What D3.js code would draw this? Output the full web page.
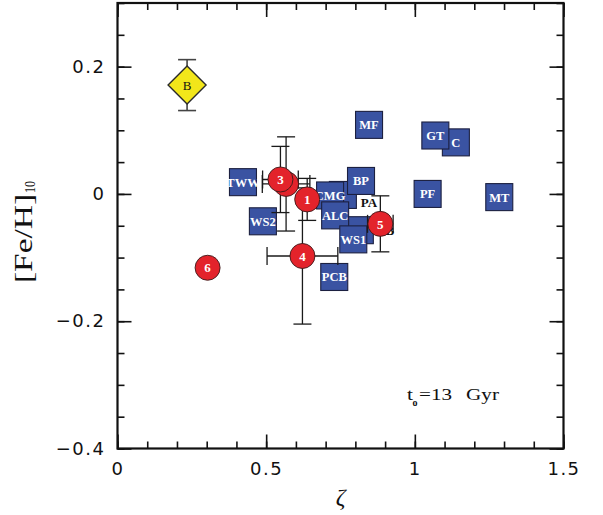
<!DOCTYPE html>
<html>
<head>
<meta charset="utf-8">
<script src="https://cdn.jsdelivr.net/npm/d3@7"></script>
<style>
  body { margin: 0; background: #fff; }
  svg { display: block; }
</style>
</head>
<body>
<svg id="chart" width="603" height="515"></svg>
<script>
// ---------- data ----------
// blue squares (drawn in this order; later ones on top)
const sqLabels = ["", "", "TWW", "WS2", "CMG", "ALC", "BP", "WS1", "PCB", "MF", "C", "GT", "PF", "MT"];
const sqZeta   = [0.758, 0.815, 0.422, 0.489, 0.715, 0.732, 0.819, 0.793, 0.729, 0.846, 1.138, 1.069, 1.043, 1.284];
const sqFeH    = [-0.0016, -0.057, 0.0185, -0.043, -0.0024, -0.0337, 0.0204, -0.0714, -0.1305, 0.1085, 0.081, 0.0918, 0.0, -0.005];

// white labelled squares
const wLabels = ["PA", "B"];
const wZeta   = [0.846, 0.916];
const wFeH    = [-0.013, -0.057];

// red circles
const cLabels = ["2", "3", "1", "4", "5", "6"];
const cZeta   = [0.567, 0.548, 0.638, 0.622, 0.884, 0.303];
const cFeH    = [0.0157, 0.0227, -0.0086, -0.0975, -0.047, -0.116];
const cZetaErr = [0.08, 0.06, 0, 0.119, 0.043, 0];
const cFeHErr  = [0.074, 0.052, 0.033, 0.107, 0.044, 0];

// yellow diamond
const dLabel = "B";
const dZeta = 0.234;
const dFeH = 0.171;
const dFeHErr = 0.04;

const xMajor = [0, 0.5, 1, 1.5];
const xMinor = d3.range(0, 1.501, 0.1).map(v => +v.toFixed(2));
const yMajor = [-0.4, -0.2, 0, 0.2];
const yMinor = d3.range(-0.4, 0.301, 0.05).map(v => +v.toFixed(2));

// ---------- layout ----------
const L = 117.5, R = 563.5, T = 3, B = 448.5;
const x = d3.scaleLinear().domain([0, 1.5]).range([L, R]);
const y = d3.scaleLinear().domain([-0.4, 0.3]).range([B, T]);

const svg = d3.select("#chart");
const ink = "#111";

// ---------- axes (inward ticks on all sides) ----------
const fmtY = d => d === 0 ? "0" : d3.format(".1f")(d);
const fmtX = d => d3.format("~g")(d);

function styleAxis(g) {
  g.select(".domain").remove();
  g.selectAll(".tick line").attr("stroke", ink).attr("stroke-width", 1.6);
  g.selectAll(".tick text")
    .attr("fill", ink)
    .style("font-family", "'DejaVu Sans', sans-serif")
    .style("font-size", "18px")
    .style("letter-spacing", "1.5px");
}

// minor
svg.append("g").attr("transform", `translate(0,${B})`)
  .call(d3.axisBottom(x).tickValues(xMinor).tickSize(-7).tickFormat("")).call(styleAxis);
svg.append("g").attr("transform", `translate(0,${T})`)
  .call(d3.axisTop(x).tickValues(xMinor).tickSize(-7).tickFormat("")).call(styleAxis);
svg.append("g").attr("transform", `translate(${L},0)`)
  .call(d3.axisLeft(y).tickValues(yMinor).tickSize(-7).tickFormat("")).call(styleAxis);
svg.append("g").attr("transform", `translate(${R},0)`)
  .call(d3.axisRight(y).tickValues(yMinor).tickSize(-7).tickFormat("")).call(styleAxis);
// major
svg.append("g").attr("transform", `translate(0,${B})`)
  .call(d3.axisBottom(x).tickValues(xMajor).tickSize(-14).tickPadding(14).tickFormat(fmtX)).call(styleAxis);
svg.append("g").attr("transform", `translate(0,${T})`)
  .call(d3.axisTop(x).tickValues(xMajor).tickSize(-14).tickFormat("")).call(styleAxis);
svg.append("g").attr("transform", `translate(${L},0)`)
  .call(d3.axisLeft(y).tickValues(yMajor).tickSize(-14).tickPadding(12).tickFormat(fmtY)).call(styleAxis);
svg.append("g").attr("transform", `translate(${R},0)`)
  .call(d3.axisRight(y).tickValues(yMajor).tickSize(-14).tickFormat("")).call(styleAxis);

// frame
svg.append("rect").attr("x", L).attr("y", T).attr("width", R - L).attr("height", B - T)
  .attr("fill", "none").attr("stroke", ink).attr("stroke-width", 2.2);

// ---------- axis titles ----------
svg.append("text")
  .attr("x", x(0.75)).attr("y", 505)
  .attr("text-anchor", "middle")
  .style("font-family", "'Liberation Serif', serif")
  .style("font-style", "italic")
  .style("font-size", "24px")
  .attr("fill", ink)
  .text("ζ");

const yl = svg.append("g").attr("transform", "translate(32,0) rotate(-90)");
yl.append("text")
  .attr("x", -283).attr("y", 0)
  .attr("textLength", 89).attr("lengthAdjust", "spacingAndGlyphs")
  .style("font-family", "'Liberation Serif', serif")
  .style("font-size", "25px")
  .attr("fill", ink)
  .text("[Fe/H]");
yl.append("text")
  .attr("x", -193).attr("y", 3)
  .attr("textLength", 12).attr("lengthAdjust", "spacingAndGlyphs")
  .style("font-family", "'Liberation Serif', serif")
  .style("font-size", "14px")
  .attr("fill", ink)
  .text("10");

// ---------- annotation ----------
const annFont = "'Liberation Serif', serif";
svg.append("text").attr("x", 407).attr("y", 400)
  .attr("textLength", 6).attr("lengthAdjust", "spacingAndGlyphs")
  .style("font-family", annFont).style("font-size", "17px").attr("fill", ink).text("t");
svg.append("text").attr("x", 412.5).attr("y", 405.5)
  .style("font-family", annFont).style("font-size", "10px").style("font-weight", "bold").attr("fill", ink).text("o");
svg.append("text").attr("x", 419).attr("y", 400)
  .attr("textLength", 33).attr("lengthAdjust", "spacingAndGlyphs")
  .style("font-family", annFont).style("font-size", "17px").attr("fill", ink).text("=13");
svg.append("text").attr("x", 466).attr("y", 400)
  .attr("textLength", 33).attr("lengthAdjust", "spacingAndGlyphs")
  .style("font-family", annFont).style("font-size", "17px").attr("fill", ink).text("Gyr");

// ---------- marks ----------
const S = 27; // square size
const plot = svg.append("g");

// white labelled squares (below blue)
const wData = wLabels.map((l, i) => ({ l, x: wZeta[i], y: wFeH[i] }));
const wg = plot.selectAll("g.w").data(wData).join("g").attr("class", "w")
  .attr("transform", d => `translate(${x(d.x)},${y(d.y)})`);
wg.append("rect").attr("x", -S / 2).attr("y", -S / 2).attr("width", S).attr("height", S).attr("fill", "#fff");
wg.append("text").attr("text-anchor", "middle").attr("dy", "0.36em")
  .style("font-family", "'Liberation Serif', serif").style("font-size", "13px").style("font-weight", "bold")
  .attr("fill", ink).text(d => d.l);

// blue squares
const sqData = sqLabels.map((l, i) => ({ l, x: sqZeta[i], y: sqFeH[i] }));
const sg = plot.selectAll("g.sq").data(sqData).join("g").attr("class", "sq")
  .attr("transform", d => `translate(${x(d.x)},${y(d.y)})`);
sg.append("rect").attr("x", -S / 2).attr("y", -S / 2).attr("width", S).attr("height", S)
  .attr("fill", "#3a53a2").attr("stroke", "#1c2040").attr("stroke-width", 1.1);
sg.append("text").attr("text-anchor", "middle").attr("dy", "0.36em")
  .style("font-family", "'Liberation Serif', serif").style("font-size", "12.5px").style("font-weight", "bold")
  .attr("fill", "#fff").text(d => d.l);

// error bars for circles + diamond
const cap = 9;
const cData = cLabels.map((l, i) => ({ l, x: cZeta[i], y: cFeH[i], ex: cZetaErr[i], ey: cFeHErr[i] }));
const eb = plot.append("g").attr("stroke", "#1a1a1a").attr("stroke-width", 1.3).attr("fill", "none");
cData.forEach(d => {
  const cx = x(d.x), cy = y(d.y);
  if (d.ey > 0) {
    const y1 = y(d.y + d.ey), y2 = y(d.y - d.ey);
    eb.append("line").attr("x1", cx).attr("x2", cx).attr("y1", y1).attr("y2", y2);
    eb.append("line").attr("x1", cx - cap).attr("x2", cx + cap).attr("y1", y1).attr("y2", y1);
    eb.append("line").attr("x1", cx - cap).attr("x2", cx + cap).attr("y1", y2).attr("y2", y2);
  }
  if (d.ex > 0) {
    const x1 = x(d.x - d.ex), x2 = x(d.x + d.ex);
    eb.append("line").attr("x1", x1).attr("x2", x2).attr("y1", cy).attr("y2", cy);
    eb.append("line").attr("x1", x1).attr("x2", x1).attr("y1", cy - cap).attr("y2", cy + cap);
    eb.append("line").attr("x1", x2).attr("x2", x2).attr("y1", cy - cap).attr("y2", cy + cap);
  }
});
{
  const cx = x(dZeta), y1 = y(dFeH + dFeHErr), y2 = y(dFeH - dFeHErr);
  const dg = plot.append("g").attr("stroke", "#444").attr("stroke-width", 1.6);
  dg.append("line").attr("x1", cx).attr("x2", cx).attr("y1", y1).attr("y2", y2);
  dg.append("line").attr("x1", cx - cap).attr("x2", cx + cap).attr("y1", y1).attr("y2", y1);
  dg.append("line").attr("x1", cx - cap).attr("x2", cx + cap).attr("y1", y2).attr("y2", y2);
}

// red circles
const cg = plot.selectAll("g.c").data(cData).join("g").attr("class", "c")
  .attr("transform", d => `translate(${x(d.x)},${y(d.y)})`);
cg.append("circle").attr("r", 12.5).attr("fill", "#e3232b").attr("stroke", "#3a1a1a").attr("stroke-width", 0.9);
cg.append("text").attr("text-anchor", "middle").attr("dy", "0.36em")
  .style("font-family", "'Liberation Serif', serif").style("font-size", "13px").style("font-weight", "bold")
  .attr("fill", "#fff").text(d => d.l);

// yellow diamond
{
  const g = plot.append("g").attr("transform", `translate(${x(dZeta)},${y(dFeH)})`);
  const h = 19;
  g.append("path").attr("d", `M0,${-h}L${h},0L0,${h}L${-h},0Z`)
    .attr("fill", "#f2e61a").attr("stroke", "#2a2a2a").attr("stroke-width", 1.4);
  g.append("text").attr("text-anchor", "middle").attr("dy", "0.36em")
    .style("font-family", "'Liberation Serif', serif").style("font-size", "13px")
    .attr("fill", ink).text(dLabel);
}
</script>
</body>
</html>
